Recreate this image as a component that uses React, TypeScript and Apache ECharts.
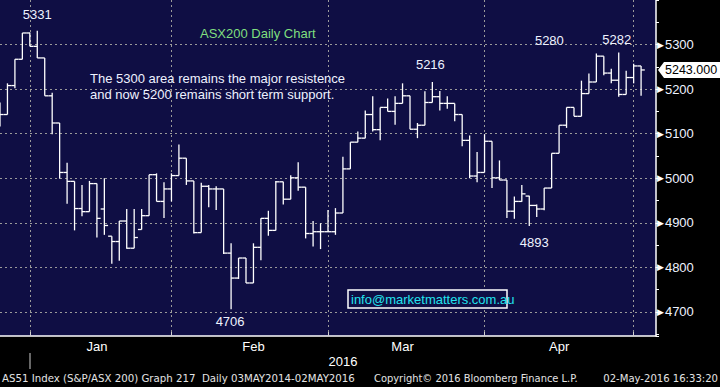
import React, { useEffect, useRef } from "react";
import * as echarts from "echarts";

// ---- data ----
const dates = [
  "2015-12-23", "2015-12-24", "2015-12-29", "2015-12-30", "2015-12-31",
  "2016-01-04", "2016-01-05", "2016-01-06", "2016-01-07", "2016-01-08", "2016-01-11", "2016-01-12", "2016-01-13", "2016-01-14", "2016-01-15",
  "2016-01-18", "2016-01-19", "2016-01-20", "2016-01-21", "2016-01-22", "2016-01-25", "2016-01-27", "2016-01-28",
  "2016-01-29", "2016-02-01", "2016-02-02", "2016-02-03", "2016-02-04", "2016-02-05", "2016-02-08", "2016-02-09", "2016-02-10",
  "2016-02-11", "2016-02-12", "2016-02-15", "2016-02-16", "2016-02-17", "2016-02-18", "2016-02-19", "2016-02-22", "2016-02-23",
  "2016-02-24", "2016-02-25", "2016-02-26", "2016-02-29", "2016-03-01", "2016-03-02", "2016-03-03", "2016-03-04", "2016-03-07",
  "2016-03-08", "2016-03-09", "2016-03-10", "2016-03-11", "2016-03-14", "2016-03-15", "2016-03-16", "2016-03-17", "2016-03-18",
  "2016-03-21", "2016-03-22", "2016-03-23", "2016-03-24", "2016-03-29", "2016-03-30", "2016-03-31", "2016-04-01", "2016-04-04",
  "2016-04-05", "2016-04-06", "2016-04-07", "2016-04-08", "2016-04-11", "2016-04-12", "2016-04-13", "2016-04-14", "2016-04-15",
  "2016-04-18", "2016-04-19", "2016-04-20", "2016-04-21", "2016-04-22", "2016-04-26", "2016-04-27", "2016-04-28", "2016-04-29",
  "2016-05-02",
];
const opens = [
  5119, 5143, 5208, 5267, 5326, 5296, 5270, 5185, 5124, 5013, 4993, 4932, 4925, 4988, 4931, 4870, 4858, 4904, 4843, 4885,
  4916, 5008, 4948, 4976, 5006, 5045, 4994, 4878, 4982, 4976, 4976, 4832, 4776, 4821, 4765, 4845, 4910, 4883, 4992, 4953,
  5001, 4980, 4876, 4880, 4880, 4880, 4922, 5021, 5081, 5090, 5143, 5109, 5159, 5150, 5168, 5185, 5110, 5119, 5170, 5183,
  5168, 5168, 5143, 5085, 5005, 5013, 5083, 5001, 4996, 4926, 4948, 4960, 4939, 4931, 4978, 5056, 5119, 5159, 5139, 5190,
  5216, 5274, 5236, 5220, 5188, 5226, 5252,
];
const highs = [
  5170, 5213, 5267, 5326, 5327, 5331, 5270, 5192, 5124, 5035, 4993, 4985, 4994, 4988, 5000, 4870, 4904, 4931, 4931, 4931,
  5008, 5011, 4991, 5011, 5076, 5045, 4994, 4990, 4985, 4982, 4976, 4854, 4821, 4821, 4854, 4910, 4927, 4994, 4992, 5007,
  5036, 4980, 4904, 4899, 4929, 4933, 5048, 5081, 5105, 5152, 5184, 5159, 5179, 5184, 5213, 5185, 5124, 5195, 5216, 5196,
  5184, 5168, 5143, 5096, 5059, 5099, 5083, 5040, 4996, 4959, 4985, 4961, 4941, 4978, 5056, 5119, 5159, 5159, 5219, 5235,
  5280, 5274, 5246, 5282, 5241, 5257, 5252,
];
const lows = [
  5116, 5143, 5202, 5267, 5296, 5270, 5185, 5099, 4999, 4943, 4883, 4915, 4925, 4867, 4873, 4808, 4815, 4842, 4843, 4885,
  4916, 4948, 4911, 4948, 5006, 4985, 4876, 4878, 4935, 4929, 4830, 4706, 4774, 4765, 4765, 4816, 4871, 4883, 4941, 4953,
  4972, 4865, 4847, 4841, 4880, 4873, 4922, 5021, 5081, 5090, 5105, 5085, 5150, 5120, 5168, 5110, 5090, 5119, 5170, 5152,
  5156, 5128, 5072, 5000, 4991, 5013, 4978, 4996, 4911, 4909, 4947, 4893, 4913, 4928, 4978, 5056, 5113, 5139, 5139, 5190,
  5216, 5231, 5213, 5183, 5188, 5213, 5185,
];
const closes = [
  5143, 5208, 5267, 5326, 5296, 5270, 5185, 5124, 5013, 4993, 4932, 4925, 4988, 4910, 4894, 4858, 4904, 4843, 4867, 4916,
  5008, 4948, 4976, 5006, 5045, 4994, 4878, 4982, 4976, 4976, 4832, 4776, 4821, 4765, 4845, 4910, 4883, 4992, 4953, 5001,
  4980, 4876, 4880, 4880, 4880, 4922, 5021, 5081, 5090, 5143, 5109, 5159, 5150, 5168, 5185, 5110, 5119, 5170, 5183, 5168,
  5168, 5143, 5085, 5005, 5013, 5083, 5001, 4996, 4926, 4948, 4965, 4939, 4931, 4978, 5056, 5119, 5159, 5139, 5190, 5216,
  5274, 5236, 5220, 5188, 5226, 5252, 5243,
];
const trailingBlankCount = 2;

const monthLineIdx = [4, 23, 44, 65, 85];
const monthLabels = ["Jan", "Feb", "Mar", "Apr"];
const monthLabelIdx = [13, 34, 54, 75];
const yearLabel = "2016";
const yearLabelIdx = 46;
const yearLineIdx = 4;

const yMin = 4646;
const yMax = 5400;
const lastValueText = "5243.000";
const lastValue = 5243;

const notes = [
  { idx: 5, value: 5331, text: "5331" },
  { idx: 58, value: 5216, text: "5216" },
  { idx: 80, value: 5280, text: "5280" },
  { idx: 83, value: 5282, text: "5282" },
  { idx: 71, value: 4893, text: "4893" },
  { idx: 31, value: 4706, text: "4706" },
];
const noteOffsets = [
  [0, -16], [-2, -17], [-47, -13], [-2, -13], [5, 17], [-1, 12],
];

const titleText = "ASX200 Daily Chart";
const commentLines = [
  "The 5300 area remains the major resistence",
  "and now 5200 remains short term support.",
];
const emailText = "info@marketmatters.com.au";
const footerLeft = "AS51 Index (S&P/ASX 200) Graph 217  Daily 03MAY2014-02MAY2016";
const footerMid = "Copyright\u00A9 2016 Bloomberg Finance L.P.";
const footerRight = "02-May-2016 16:33:20";

const FONT = "Liberation Sans, Arial, sans-serif";
const FOOT_FONT = "DejaVu Sans Condensed, DejaVu Sans, sans-serif";
const NAVY = "#0f0e44";

export default function App() {
  const ref = useRef<HTMLDivElement>(null);

  useEffect(() => {
    if (!ref.current) return;
    const chart = echarts.init(ref.current, null, { renderer: "svg" });

    const cats = dates.concat(Array.from({ length: trailingBlankCount }, (_, i) => "pad" + i));
    const data = dates.map((_, i) => [i, opens[i], highs[i], lows[i], closes[i]]);

    const barStyle = { stroke: "#ffffff", lineWidth: 1.3 };
    const renderItem = (params: any, api: any) => {
      const i = api.value(0);
      const o = api.coord([i, api.value(1)]);
      const h = api.coord([i, api.value(2)]);
      const l = api.coord([i, api.value(3)]);
      const c = api.coord([i, api.value(4)]);
      const half = 3.7;
      const top = Math.min(h[1], o[1], c[1]);
      const bot = Math.max(l[1], o[1], c[1]);
      return {
        type: "group",
        children: [
          { type: "line", shape: { x1: h[0], y1: top, x2: h[0], y2: bot }, style: barStyle },
          { type: "line", shape: { x1: o[0] - half, y1: o[1], x2: o[0], y2: o[1] }, style: barStyle },
          { type: "line", shape: { x1: c[0], y1: c[1], x2: c[0] + half, y2: c[1] }, style: barStyle },
        ],
      };
    };

    chart.setOption({
      animation: false,
      backgroundColor: "#000000",
      grid: {
        left: 0,
        top: -3.3,
        right: 64,
        bottom: 51,
        show: true,
        backgroundColor: NAVY,
        borderWidth: 0,
      },
      xAxis: [
        {
          type: "category",
          data: cats,
          boundaryGap: false,
          axisLine: { show: true, lineStyle: { color: "#ffffff", width: 1.5 } },
          axisTick: {
            show: true,
            inside: true,
            length: 4,
            interval: (i: number) => monthLineIdx.includes(i),
            lineStyle: { color: "#d0d0d0" },
          },
          axisLabel: {
            show: true,
            interval: (i: number) => monthLabelIdx.includes(i),
            formatter: (_v: string, i: number) => monthLabels[monthLabelIdx.indexOf(i)] || "",
            color: "#ffffff",
            fontSize: 13,
            fontFamily: FONT,
            margin: 4,
          },
          splitLine: {
            show: true,
            interval: (i: number) => monthLineIdx.includes(i),
            lineStyle: { color: "#9a9a9a", type: [2, 3], width: 1 },
          },
        },
        {
          type: "category",
          data: cats,
          boundaryGap: false,
          position: "bottom",
          offset: 17,
          axisLine: { show: false },
          axisTick: {
            show: true,
            length: 16,
            interval: (i: number) => i === yearLineIdx,
            lineStyle: { color: "#8a8a8a", width: 1.5 },
          },
          axisLabel: {
            show: true,
            interval: (i: number) => i === yearLabelIdx,
            formatter: () => yearLabel,
            color: "#ffffff",
            fontSize: 13,
            fontFamily: FONT,
            margin: 2,
          },
          splitLine: { show: false },
        },
      ],
      yAxis: {
        type: "value",
        position: "right",
        min: yMin,
        max: yMax,
        minInterval: 100,
        maxInterval: 100,
        axisLine: { show: true, lineStyle: { color: "#ffffff", width: 1.5 } },
        axisTick: { show: true, length: 3, lineStyle: { color: "#ffffff" } },
        minorTick: { show: true, splitNumber: 2, length: 3, lineStyle: { color: "#ffffff" } },
        splitLine: {
          show: true,
          showMinLine: false,
          showMaxLine: false,
          lineStyle: { color: "#9a9a9a", type: [2, 3], width: 1 },
        },
        axisLabel: {
          show: true,
          margin: 1,
          showMinLabel: false,
          showMaxLabel: false,
          formatter: (v: number) => `{t|\u25B6}{v|${v}}`,
          rich: {
            t: { fontSize: 9, color: "#ffffff", fontFamily: "DejaVu Sans" },
            v: { fontSize: 13, color: "#eef3ff", fontFamily: FONT, padding: [0, 0, 0, 1] },
          },
        },
      },
      series: [
        {
          type: "custom",
          renderItem,
          data,
          encode: { x: 0, y: [1, 2, 3, 4] },
          clip: false,
        },
      ],
    });

    const tagY = chart.convertToPixel({ yAxisIndex: 0 }, lastValue) as number;
    const tagX = 656;
    const textStyle = (extra: any) => ({
      font: `13px ${FONT}`,
      fill: "#eef2ff",
      ...extra,
    });

    const graphics: any[] = [];
    notes.forEach((n, k) => {
      const p = chart.convertToPixel({ xAxisIndex: 0, yAxisIndex: 0 }, [n.idx, n.value]) as number[];
      graphics.push({
        type: "text",
        x: p[0] + noteOffsets[k][0],
        y: p[1] + noteOffsets[k][1],
        z: 10,
        style: textStyle({ text: n.text, align: "center", verticalAlign: "middle", textAlign: "center", textVerticalAlign: "middle" }),
      });
    });
    graphics.push({
      type: "text",
      x: 200,
      y: 33,
      z: 10,
      style: textStyle({ text: titleText, fill: "#7fdf7f", align: "left", verticalAlign: "middle", textAlign: "left", textVerticalAlign: "middle" }),
    });
    commentLines.forEach((t, k) => {
      graphics.push({
        type: "text",
        x: 90,
        y: 78 + k * 16,
        z: 10,
        style: textStyle({ text: t, align: "left", verticalAlign: "middle", textAlign: "left", textVerticalAlign: "middle" }),
      });
    });
    graphics.push({
      type: "rect",
      z: 10,
      shape: { x: 348, y: 290, width: 159, height: 18 },
      style: { fill: NAVY, stroke: "#ffffff", lineWidth: 1.5 },
    });
    graphics.push({
      type: "text",
      x: 351,
      y: 299.5,
      z: 11,
      style: textStyle({ text: emailText, fill: "#22e3ee", align: "left", verticalAlign: "middle", textAlign: "left", textVerticalAlign: "middle" }),
    });
    graphics.push({
      type: "group",
      x: tagX,
      y: tagY,
      z: 20,
      children: [
        {
          type: "polygon",
          shape: { points: [[2, 0], [8, -8], [64, -8], [64, 8], [8, 8]] },
          style: { fill: "#ffffff" },
        },
        {
          type: "text",
          x: 9,
          y: 0.5,
          style: { text: lastValueText, font: `12.5px ${FONT}`, fill: "#000000", align: "left", verticalAlign: "middle", textAlign: "left", textVerticalAlign: "middle" },
        },
      ],
    });
    const footStyle = (t: string, align: string, size: number) => ({
      text: t,
      font: `${size}px ${FOOT_FONT}`,
      fill: "#e4e4e4",
      align,
      verticalAlign: "middle",
      textAlign: align,
      textVerticalAlign: "middle",
    });
    graphics.push({ type: "text", x: 2, y: 378, style: footStyle(footerLeft, "left", 11.35) });
    graphics.push({ type: "text", x: 374, y: 378, style: footStyle(footerMid, "left", 11) });
    graphics.push({ type: "text", x: 718, y: 378, style: footStyle(footerRight, "right", 11.2) });

    chart.setOption({ graphic: graphics });

    return () => chart.dispose();
  }, []);

  return (
    <div
      ref={ref}
      style={{ position: "fixed", left: 0, top: 0, width: 720, height: 387, background: "#000" }}
    />
  );
}
